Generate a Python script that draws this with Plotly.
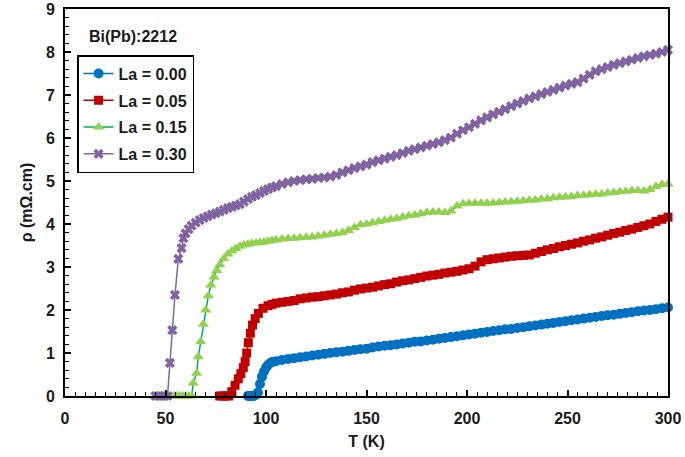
import plotly.graph_objects as go

# shared temperature grid for the normal-state part (K)
T_grid = [105, 108, 111, 114, 117, 120, 123, 126, 129, 132, 135, 138, 141, 144, 147,
          150, 153, 156, 159, 162, 165, 168, 171, 174, 177, 180, 183, 186, 189, 192,
          195, 198, 201, 204, 207, 210, 213, 216, 219, 222, 225, 228, 231, 234, 237,
          240, 243, 246, 249, 252, 255, 258, 261, 264, 267, 270, 273, 276, 279, 282,
          285, 288, 291, 294, 297, 300]

# La = 0.00
T_00_tr = [91, 92, 93, 94, 95, 96, 97, 98, 99, 100, 101, 102, 103]
rho_00_tr = [0, 0, 0, 0, 0.03, 0.08, 0.28, 0.45, 0.57, 0.66, 0.72, 0.76, 0.79]
rho_00 = [0.81, 0.84, 0.86, 0.88, 0.90, 0.92, 0.94, 0.96, 0.98, 1.00, 1.02, 1.03, 1.05, 1.07, 1.09,
          1.10, 1.13, 1.15, 1.17, 1.18, 1.20, 1.22, 1.24, 1.26, 1.27, 1.29, 1.31, 1.33, 1.35, 1.37,
          1.39, 1.41, 1.43, 1.45, 1.47, 1.49, 1.51, 1.53, 1.55, 1.56, 1.58, 1.60, 1.62, 1.64, 1.66,
          1.68, 1.70, 1.72, 1.74, 1.76, 1.78, 1.80, 1.82, 1.84, 1.86, 1.88, 1.89, 1.91, 1.93, 1.95,
          1.97, 1.99, 2.00, 2.02, 2.04, 2.06]

# La = 0.05
T_05_tr = [77, 78.5, 80, 81.5, 83, 84.6, 86.2, 87.5, 88.7, 89.6, 90.4, 91.2, 92.2, 93.3, 94.6,
           96.2, 98.5, 101, 103]
rho_05_tr = [0, 0, 0, 0, 0.1, 0.25, 0.4, 0.52, 0.66, 0.8, 1.0, 1.24, 1.46, 1.65, 1.8,
             1.92, 2.04, 2.1, 2.13]
rho_05 = [2.16, 2.18, 2.20, 2.22, 2.26, 2.28, 2.30, 2.31, 2.33, 2.35, 2.37, 2.40, 2.42, 2.46, 2.49,
          2.51, 2.53, 2.56, 2.59, 2.61, 2.65, 2.68, 2.70, 2.73, 2.76, 2.79, 2.81, 2.83, 2.86, 2.88,
          2.90, 2.93, 2.96, 3.02, 3.12, 3.17, 3.19, 3.21, 3.23, 3.25, 3.26, 3.27, 3.28, 3.32, 3.36,
          3.40, 3.43, 3.47, 3.50, 3.53, 3.56, 3.60, 3.63, 3.67, 3.70, 3.74, 3.78, 3.81, 3.85, 3.88,
          3.92, 3.96, 4.00, 4.06, 4.11, 4.16]

# La = 0.15
T_15_tr = [54, 55.5, 57, 58.5, 60, 61.5, 63, 63.8, 65.5, 66.3, 67.5, 68.8, 70, 71.3, 72.6,
           74.1, 75.5, 77, 79, 81, 83, 85, 87, 89, 91, 93, 95, 97, 99, 101, 103]
rho_15_tr = [0, 0, 0, 0, 0, 0, 0, 0.3, 0.53, 0.91, 1.26, 1.67, 2.0, 2.33, 2.58,
             2.77, 2.92, 3.05, 3.2, 3.3, 3.37, 3.43, 3.48, 3.51, 3.53, 3.55, 3.56, 3.57, 3.58, 3.6, 3.62]
rho_15 = [3.63, 3.65, 3.66, 3.67, 3.68, 3.69, 3.70, 3.72, 3.74, 3.76, 3.78, 3.80, 3.85, 3.92, 3.98,
          4.00, 4.03, 4.06, 4.09, 4.11, 4.13, 4.16, 4.19, 4.21, 4.24, 4.27, 4.28, 4.28, 4.27, 4.30,
          4.42, 4.47, 4.48, 4.48, 4.48, 4.48, 4.49, 4.50, 4.51, 4.52, 4.53, 4.54, 4.55, 4.56, 4.58,
          4.59, 4.61, 4.62, 4.63, 4.64, 4.66, 4.67, 4.68, 4.69, 4.70, 4.72, 4.73, 4.75, 4.76, 4.78,
          4.78, 4.77, 4.80, 4.87, 4.92, 4.93]

# La = 0.30
T_30_tr = [45, 46.5, 48, 49.5, 51, 52.2, 53.4, 54.7, 56.4, 58, 58.9, 60, 61.5, 63, 65, 67, 69,
           71, 73, 75, 77, 79, 81, 83, 85, 87, 89, 91, 93, 95, 97, 99, 101, 103]
rho_30_tr = [0, 0, 0, 0, 0, 0.77, 1.53, 2.35, 3.19, 3.44, 3.67, 3.78, 3.88, 3.96, 4.03, 4.09, 4.14,
             4.18, 4.22, 4.25, 4.29, 4.33, 4.37, 4.40, 4.43, 4.46, 4.52, 4.58, 4.63, 4.67, 4.72, 4.77,
             4.81, 4.85]
rho_30 = [4.88, 4.93, 4.97, 5.00, 5.02, 5.04, 5.05, 5.07, 5.08, 5.10, 5.14, 5.20, 5.25, 5.30, 5.34,
          5.38, 5.44, 5.48, 5.52, 5.56, 5.60, 5.65, 5.70, 5.74, 5.78, 5.82, 5.86, 5.90, 5.95, 6.01,
          6.10, 6.18, 6.25, 6.33, 6.41, 6.48, 6.55, 6.61, 6.67, 6.74, 6.80, 6.86, 6.92, 6.97, 7.02,
          7.07, 7.12, 7.17, 7.22, 7.26, 7.30, 7.38, 7.47, 7.55, 7.60, 7.65, 7.70, 7.74, 7.78, 7.82,
          7.86, 7.90, 7.93, 7.96, 8.00, 8.05]

series = [
    ("La = 0.00", T_00_tr + T_grid, rho_00_tr + rho_00, "circle", 10, "#0070C0", "#0070C0"),
    ("La = 0.05", T_05_tr + T_grid, rho_05_tr + rho_05, "square", 9, "#C00000", "#C00000"),
    ("La = 0.15", T_15_tr + T_grid, rho_15_tr + rho_15, "triangle-up", 10, "#92D050", "#00B050"),
    ("La = 0.30", T_30_tr + T_grid, rho_30_tr + rho_30, "x", 9, "#8064A2", "#8064A2"),
]

fig = go.Figure()
for name, t, r, sym, size, mcol, lcol in series:
    fig.add_trace(go.Scatter(x=t, y=r, mode="lines+markers", name=name, legendgroup=name,
                             cliponaxis=False,
                             line=dict(color=lcol, width=1.5),
                             marker=dict(symbol=sym, size=size, color=mcol, line=dict(width=0))))

font_bold = dict(family="Liberation Sans, Arial, sans-serif", size=16, color="#1a1a1a", weight="bold")

fig.update_layout(
    width=685, height=457,
    margin=dict(l=65, r=17, t=9, b=61),
    paper_bgcolor="white", plot_bgcolor="white",
    font=font_bold,
    showlegend=True,
    legend=dict(x=0.02, y=0.881, xanchor="left", yanchor="top",
                bordercolor="black", borderwidth=1.5, bgcolor="white",
                font=font_bold, tracegroupgap=3, itemwidth=30),
    annotations=[dict(text="Bi(Pb):2212", x=0.036, y=0.928, xref="paper", yref="paper",
                      xanchor="left", yanchor="middle", showarrow=False, font=font_bold)],
)

fig.update_xaxes(range=[0, 300], dtick=50, showgrid=False, zeroline=False, automargin=False,
                 showline=True, linecolor="black", linewidth=2, mirror=True,
                 ticks="inside", ticklen=6, tickcolor="black", tickwidth=1.5, ticklabelstandoff=7,
                 minor=dict(dtick=5, ticks="inside", ticklen=4, tickcolor="black", tickwidth=1),
                 tickfont=font_bold, title=dict(text="T (K)", font=font_bold, standoff=10))
fig.update_yaxes(range=[0, 9], dtick=1, showgrid=False, zeroline=False, automargin=False,
                 showline=True, linecolor="black", linewidth=2, mirror=True,
                 ticks="inside", ticklen=6, tickcolor="black", tickwidth=1.5, ticklabelstandoff=5,
                 minor=dict(dtick=0.2, ticks="inside", ticklen=4, tickcolor="black", tickwidth=1),
                 tickfont=font_bold, title=dict(text="ρ (mΩ.cm)", font=font_bold, standoff=9))

# drop the default 8px page margin so the figure sits at the window's top-left corner
fig.write_html("out.html", config={"displayModeBar": False},
               post_script="document.body.style.margin = '0';")
